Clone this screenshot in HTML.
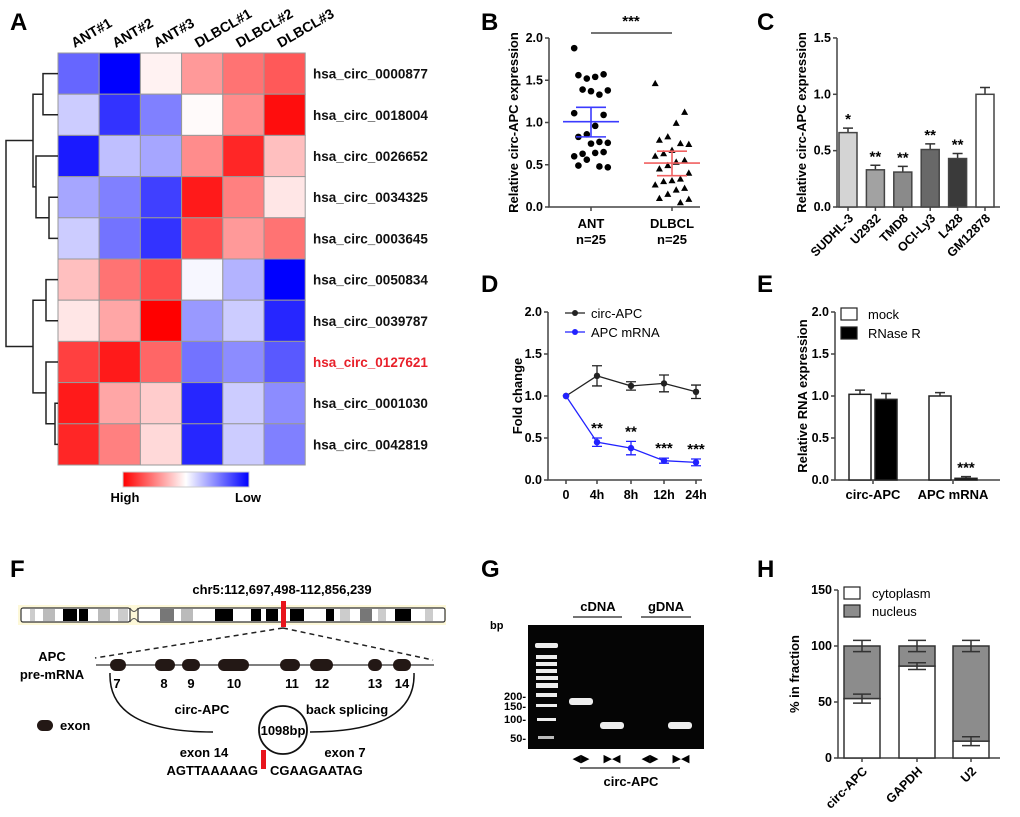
<!DOCTYPE html>
<html><head><meta charset="utf-8"><style>
body{margin:0;background:#fff}
svg{display:block;font-family:"Liberation Sans",Arial,sans-serif}
.b{font-weight:bold}
</style></head><body>
<svg id="fig" width="1020" height="817" viewBox="0 0 1020 817" xmlns="http://www.w3.org/2000/svg">
<g class="b" font-size="24">
<text x="10" y="30">A</text>
<text x="481" y="30">B</text>
<text x="757" y="30">C</text>
<text x="481" y="292">D</text>
<text x="757" y="292">E</text>
<text x="10" y="577">F</text>
<text x="481" y="577">G</text>
<text x="757" y="577">H</text>
</g>
<g id="A"></g>
<g id="B"></g>
<g id="C"></g>
<g id="D"></g>
<g id="E"></g>
<g id="F"></g>
<g id="G"></g>
<g id="H"></g>
</svg>
<script>
// ---------- data ----------
const heatCols = ["ANT#1","ANT#2","ANT#3","DLBCL#1","DLBCL#2","DLBCL#3"];
const heatRows = ["hsa_circ_0000877","hsa_circ_0018004","hsa_circ_0026652","hsa_circ_0034325","hsa_circ_0003645","hsa_circ_0050834","hsa_circ_0039787","hsa_circ_0127621","hsa_circ_0001030","hsa_circ_0042819"];
const heatVals = [
 [-0.6,-1,0.05,0.4,0.55,0.65],
 [-0.2,-0.8,-0.5,0.02,0.45,0.95],
 [-0.9,-0.25,-0.35,0.45,0.85,0.25],
 [-0.35,-0.5,-0.75,0.9,0.5,0.1],
 [-0.2,-0.55,-0.8,0.7,0.4,0.55],
 [0.25,0.55,0.7,-0.03,-0.3,-1],
 [0.1,0.35,1.0,-0.4,-0.2,-0.85],
 [0.75,0.9,0.6,-0.55,-0.45,-0.65],
 [0.9,0.35,0.2,-0.85,-0.2,-0.45],
 [0.85,0.5,0.15,-0.85,-0.2,-0.5]];
const bCats = ["ANT","DLBCL"];
const bAnt = [1.88,1.57,1.54,1.52,1.56,1.38,1.33,1.37,1.39,1.11,1.09,0.96,0.86,0.83,0.76,0.77,0.75,0.63,0.60,0.65,0.64,0.56,0.49,0.47,0.48];
const bDlbcl = [1.46,1.12,0.99,0.83,0.79,0.74,0.75,0.67,0.63,0.6,0.55,0.53,0.49,0.45,0.4,0.33,0.31,0.3,0.26,0.22,0.2,0.15,0.1,0.09,0.05];
const bMean = [1.01,0.52];
const bLo = [0.83,0.37];
const bHi = [1.18,0.66];
const bTicks = [0,0.5,1.0,1.5,2.0];
const cCats = ["SUDHL-3","U2932","TMD8","OCI-Ly3","L428","GM12878"];
const cVals = [0.66,0.33,0.31,0.51,0.43,1.0];
const cErr = [0.04,0.04,0.05,0.05,0.045,0.06];
const cStars = ["*","**","**","**","**",""];
const cTicks = [0,0.5,1.0,1.5];
const dCats = ["0","4h","8h","12h","24h"];
const dCirc = [1,1.24,1.12,1.15,1.05];
const dCircErr = [0,0.12,0.05,0.1,0.08];
const dMrna = [1,0.45,0.38,0.23,0.21];
const dMrnaErr = [0,0.05,0.08,0.03,0.04];
const dStars = ["","**","**","***","***"];
const dTicks = [0,0.5,1.0,1.5,2.0];
const eCats = ["circ-APC","APC mRNA"];
const eMock = [1.02,1.0];
const eMockErr = [0.05,0.04];
const eRnase = [0.96,0.02];
const eRnaseErr = [0.07,0.02];
const eTicks = [0,0.5,1.0,1.5,2.0];
const hCats = ["circ-APC","GAPDH","U2"];
const hCyto = [53,82,15];
const hCytoErr = [4,3,4];
const hNucErr = [5,5,5];
const hTicks = [0,50,100,150];

const NS="http://www.w3.org/2000/svg";
function mk(parent,tag,attrs,text){const e=document.createElementNS(NS,tag);for(const k in attrs)e.setAttribute(k,attrs[k]);if(text!==undefined)e.textContent=text;parent.appendChild(e);return e;}
function lerp(a,b,t){return Math.round(a+(b-a)*t);}
function heatColor(v){if(v>=0){return `rgb(255,${lerp(255,0,v)},${lerp(255,0,v)})`;}const t=-v;return `rgb(${lerp(255,0,t)},${lerp(255,0,t)},255)`;}

// ---------- A heatmap ----------
(function(){
const g=document.getElementById('A');
const x0=58,y0=53,cw=41.2,ch=41.2;
heatVals.forEach((row,i)=>row.forEach((v,j)=>{
 const r=mk(g,'rect',{x:x0+j*cw,y:y0+i*ch,width:cw,height:ch,fill:heatColor(v),stroke:'#999','stroke-width':1});
 
 
}));
heatRows.forEach((n,i)=>{
 const t=mk(g,'text',{x:313,y:y0+i*ch+ch/2+5,'font-size':13.5,'font-weight':'bold',fill:n==='hsa_circ_0127621'?'#e8202a':'#111'},n);
 
 
});
heatCols.forEach((n,j)=>{
 const cx=x0+j*cw+cw/2-4,cy=48;
 const t=mk(g,'text',{x:cx,y:cy,'font-size':14,'font-weight':'bold',transform:`rotate(-30 ${cx} ${cy})`},n);
 
 
});
const yc=i=>y0+i*ch+ch/2;
const d=mk(g,'g',{stroke:'#222','stroke-width':1.5,fill:'none'});


const P=(a)=>mk(d,'path',{d:a});
P(`M58 ${yc(0)}H43V${yc(1)}H58`);P(`M58 ${yc(3)}H49V${yc(4)}H58`);
P(`M58 ${yc(2)}H36V${(yc(3)+yc(4))/2}H49`);
const m1=(yc(0)+yc(1))/2,m2=(yc(2)+(yc(3)+yc(4))/2)/2;P(`M43 ${m1}H33V${m2}H36`);
P(`M58 ${yc(5)}H46V${yc(6)}H58`);P(`M58 ${yc(8)}H55V${yc(9)}H58`);
P(`M58 ${yc(7)}H46V${(yc(8)+yc(9))/2}H55`);
const m3=(yc(5)+yc(6))/2,m4=(yc(7)+(yc(8)+yc(9))/2)/2;P(`M46 ${m3}H33V${m4}H46`);
P(`M33 ${(m1+m2)/2}H6V${(m3+m4)/2}H33`);
const defs=mk(g,'defs',{});const lg=mk(defs,'linearGradient',{id:'cb'});
mk(lg,'stop',{offset:'0','stop-color':'#ff0000'});mk(lg,'stop',{offset:'0.5','stop-color':'#ffffff'});mk(lg,'stop',{offset:'1','stop-color':'#0000ff'});
const cb=mk(g,'rect',{x:123,y:472,width:126,height:15,fill:'url(#cb)',stroke:'#ccc'});


const hi=mk(g,'text',{x:125,y:502,'font-size':13,'font-weight':'bold','text-anchor':'middle'},'High');


const lo=mk(g,'text',{x:248,y:502,'font-size':13,'font-weight':'bold','text-anchor':'middle'},'Low');


})();

function yAxis(g,x,yBase,scale,ticks,fmt,xEnd,title,titleX){
 const ax=mk(g,'g',{stroke:'#444','stroke-width':1.5,fill:'none'});
 
 
 const top=yBase-ticks[ticks.length-1]*scale;
 mk(ax,'path',{d:`M${x} ${top}V${yBase}H${xEnd}`});
 ticks.forEach(t=>{const y=yBase-t*scale;mk(ax,'path',{d:`M${x-4} ${y}H${x}`});
  const lb=mk(g,'text',{x:x-6,y:y+4,'font-size':12.5,'font-weight':'bold','text-anchor':'end'},fmt(t));
  
  });
 const cy=(top+yBase)/2;
 const tt=mk(g,'text',{x:titleX,y:cy,'font-size':13,'font-weight':'bold','text-anchor':'middle',transform:`rotate(-90 ${titleX} ${cy})`},title);
 
 
}
const f1=t=>t.toFixed(1);
function errBar(g,x,y1,y2,w){const e=mk(g,'path',{d:`M${x} ${y1}V${y2}M${x-w} ${y1}H${x+w}`,stroke:'#333','stroke-width':1.5,fill:'none'});
 
 }

// ---------- B ----------
(function(){
const g=document.getElementById('B');const X=549,Y=207,S=84.5;const ys=v=>Y-v*S;
yAxis(g,X,Y,S,bTicks,f1,700,'Relative circ-APC expression',518);
const cx=[591,672];
bCats.forEach((c,i)=>{mk(g,'path',{d:`M${cx[i]} ${Y}v4`,stroke:'#444','stroke-width':1.5});
 const t=mk(g,'text',{x:cx[i],y:228,'font-size':13,'font-weight':'bold','text-anchor':'middle'},c);
 
 
 const n=mk(g,'text',{x:cx[i],y:244,'font-size':13,'font-weight':'bold','text-anchor':'middle'},'n=25');
 
 });
const jit=i=>(((i*7)%9)-4)*4.2;
bAnt.forEach((v,i)=>{const p=mk(g,'circle',{cx:cx[0]+jit(i),cy:ys(v),r:3.3,fill:'#000'});
 
 });
bDlbcl.forEach((v,i)=>{const x=cx[1]+jit(i),y=ys(v);const p=mk(g,'path',{d:`M${x} ${y-3.8}L${x+3.5} ${y+2.5}H${x-3.5}Z`,fill:'#000'});
 
 });
const cols=['#3b3bff','#f06060'];
bMean.forEach((m,i)=>{const gg=mk(g,'g',{stroke:cols[i],'stroke-width':1.6,fill:'none'});
 
 
 mk(gg,'path',{d:`M${cx[i]-28} ${ys(m)}h56M${cx[i]-15} ${ys(bLo[i])}h30M${cx[i]-15} ${ys(bHi[i])}h30M${cx[i]} ${ys(bLo[i])}V${ys(bHi[i])}`});});
const sl=mk(g,'path',{d:'M591 33H672',stroke:'#222','stroke-width':1.3});


const st=mk(g,'text',{x:631,y:26,'font-size':15,'font-weight':'bold','text-anchor':'middle'},'***');


})();

// ---------- C ----------
(function(){
const g=document.getElementById('C');const X=837,Y=207,S=112.7;const ys=v=>Y-v*S;
yAxis(g,X,Y,S,cTicks,f1,1000,'Relative circ-APC expression',806);
const fills=['#d4d4d4','#a2a2a2','#8a8a8a','#686868','#3a3a3a','#ffffff'];
const step=27.4,x0=848;
cCats.forEach((c,i)=>{const cx=x0+i*step;
 errBar(g,cx,ys(cVals[i]+cErr[i]),ys(cVals[i]),5);
 const r=mk(g,'rect',{x:cx-9,y:ys(cVals[i]),width:18,height:cVals[i]*S,fill:fills[i],stroke:'#444','stroke-width':1.5});
 
 
 mk(g,'path',{d:`M${cx} ${Y}v4`,stroke:'#444','stroke-width':1.5});
 if(cStars[i]){const s=mk(g,'text',{x:cx,y:ys(cVals[i]+cErr[i])-4,'font-size':15,'font-weight':'bold','text-anchor':'middle'},cStars[i]);
  
  }
 const t=mk(g,'text',{x:cx+6,y:219,'font-size':12.5,'font-weight':'bold','text-anchor':'end',transform:`rotate(-45 ${cx+6} 219)`},c);
 
 });
})();

// ---------- D ----------
(function(){
const g=document.getElementById('D');const X=548,Y=480,S=84;const ys=v=>Y-v*S;
yAxis(g,X,Y,S,dTicks,f1,702,'Fold change',522);
const xs=[566,597,631,664,696];
dCats.forEach((c,i)=>{mk(g,'path',{d:`M${xs[i]} ${Y}v4`,stroke:'#444','stroke-width':1.5});
 const t=mk(g,'text',{x:xs[i],y:499,'font-size':12.5,'font-weight':'bold','text-anchor':'middle'},c);
 
 });
function series(vals,errs,col,name){const gg=mk(g,'g',{});
 
 
 mk(gg,'path',{d:vals.map((v,i)=>(i?'L':'M')+xs[i]+' '+ys(v)).join(''),stroke:col,'stroke-width':1.3,fill:'none'});
 vals.forEach((v,i)=>{if(errs[i])mk(gg,'path',{d:`M${xs[i]} ${ys(v-errs[i])}V${ys(v+errs[i])}M${xs[i]-5} ${ys(v-errs[i])}h10M${xs[i]-5} ${ys(v+errs[i])}h10`,stroke:col,'stroke-width':1.3});
  mk(gg,'circle',{cx:xs[i],cy:ys(v),r:3.2,fill:col});});}
series(dCirc,dCircErr,'#222','circ-apc-series');
series(dMrna,dMrnaErr,'#2222ff','apc-mrna-series');
dStars.forEach((s,i)=>{if(!s)return;const t=mk(g,'text',{x:xs[i],y:ys(dMrna[i]+dMrnaErr[i])-5,'font-size':15,'font-weight':'bold','text-anchor':'middle'},s);
 
 });
const lg=mk(g,'g',{});


[['circ-APC','#222',313],['APC mRNA','#2222ff',332]].forEach(([n,c,y])=>{mk(lg,'path',{d:`M565 ${y}h20`,stroke:c,'stroke-width':1.3});mk(lg,'circle',{cx:575,cy:y,r:3,fill:c});
 const t=mk(lg,'text',{x:591,y:y+5,'font-size':13},n);
 
 });
})();

// ---------- E ----------
(function(){
const g=document.getElementById('E');const X=835,Y=480,S=84;const ys=v=>Y-v*S;
yAxis(g,X,Y,S,eTicks,f1,1000,'Relative RNA expression',807);
const cxs=[873,953];
eCats.forEach((c,i)=>{const m=cxs[i]-13,r=cxs[i]+13;
 errBar(g,m,ys(eMock[i]+eMockErr[i]),ys(eMock[i]),5);
 errBar(g,r,ys(eRnase[i]+eRnaseErr[i]),ys(eRnase[i]),5);
 const b1=mk(g,'rect',{x:m-11,y:ys(eMock[i]),width:22,height:eMock[i]*S,fill:'#fff',stroke:'#222','stroke-width':1.5});
 
 
 const b2=mk(g,'rect',{x:r-11,y:ys(eRnase[i]),width:22,height:Math.max(eRnase[i]*S,1.5),fill:'#000',stroke:'#222','stroke-width':1.5});
 
 
 mk(g,'path',{d:`M${cxs[i]} ${Y}v4`,stroke:'#444','stroke-width':1.5});
 const t=mk(g,'text',{x:cxs[i],y:499,'font-size':13,'font-weight':'bold','text-anchor':'middle'},c);
 
 });
const st=mk(g,'text',{x:cxs[1]+13,y:ys(eRnase[1]+eRnaseErr[1])-4,'font-size':15,'font-weight':'bold','text-anchor':'middle'},'***');


const lg=mk(g,'g',{});


[['mock','#fff',314],['RNase R','#000',333]].forEach(([n,c,y])=>{mk(lg,'rect',{x:841,y:y-6,width:16,height:12,fill:c,stroke:'#222','stroke-width':1.2});
 const t=mk(lg,'text',{x:868,y:y+5,'font-size':13},n);
 
 });
})();

// ---------- H ----------
(function(){
const g=document.getElementById('H');const X=838,Y=758,S=1.12;const ys=v=>Y-v*S;
yAxis(g,X,Y,S,hTicks,t=>String(t),1000,'% in fraction',799);
const cxs=[862,917,971];
hCats.forEach((c,i)=>{const cx=cxs[i];
 errBar(g,cx,ys(100+hNucErr[i]),ys(100),9);
 const n=mk(g,'rect',{x:cx-18,y:ys(100),width:36,height:(100-hCyto[i])*S,fill:'#8c8c8c',stroke:'#333','stroke-width':1.5});
 
 
 mk(g,'path',{d:`M${cx} ${ys(100-hNucErr[i])}V${ys(100)}M${cx-9} ${ys(100-hNucErr[i])}h18`,stroke:'#333','stroke-width':1.5});
 const cy=mk(g,'rect',{x:cx-18,y:ys(hCyto[i]),width:36,height:hCyto[i]*S,fill:'#fff',stroke:'#333','stroke-width':1.5});
 
 
 mk(g,'path',{d:`M${cx} ${ys(hCyto[i]-hCytoErr[i])}V${ys(hCyto[i]+hCytoErr[i])}M${cx-9} ${ys(hCyto[i]-hCytoErr[i])}h18M${cx-9} ${ys(hCyto[i]+hCytoErr[i])}h18`,stroke:'#333','stroke-width':1.5});
 mk(g,'path',{d:`M${cx} ${Y}v4`,stroke:'#444','stroke-width':1.5});
 const t=mk(g,'text',{x:cx+6,y:772,'font-size':12.5,'font-weight':'bold','text-anchor':'end',transform:`rotate(-45 ${cx+6} 772)`},c);
 
 });
const lg=mk(g,'g',{});


[['cytoplasm','#fff',593],['nucleus','#8c8c8c',611]].forEach(([n,c,y])=>{mk(lg,'rect',{x:844,y:y-6,width:16,height:12,fill:c,stroke:'#222','stroke-width':1.2});
 const t=mk(lg,'text',{x:872,y:y+5,'font-size':13},n);
 
 });
})();
</script>
<script>
(function(){
const g=document.getElementById('F');
g.innerHTML=`
<text x="282" y="594" font-size="13" font-weight="bold" text-anchor="middle">chr5:112,697,498-112,856,239</text>
<g>
<rect x="18" y="605" width="428" height="20" fill="#fdf8d8"/>
<rect x="21" y="608" width="109" height="14" fill="#fff" stroke="#333" stroke-width="1.2" rx="2"/>
<rect x="138" y="608" width="307" height="14" fill="#fff" stroke="#333" stroke-width="1.2" rx="2"/>
<rect x="30" y="609" width="5" height="12" fill="#ccc"/><rect x="43" y="609" width="12" height="12" fill="#bbb"/>
<rect x="63" y="609" width="14" height="12" fill="#000"/><rect x="79" y="609" width="9" height="12" fill="#000"/>
<rect x="98" y="609" width="12" height="12" fill="#bbb"/><rect x="118" y="609" width="10" height="12" fill="#ccc"/>
<path d="M130 608 Q134 615 138 608 M130 622 Q134 615 138 622" stroke="#555" fill="none"/>
<rect x="160" y="609" width="14" height="12" fill="#777"/><rect x="181" y="609" width="12" height="12" fill="#bbb"/>
<rect x="215" y="609" width="18" height="12" fill="#000"/><rect x="251" y="609" width="10" height="12" fill="#000"/>
<rect x="266" y="609" width="12" height="12" fill="#000"/><rect x="290" y="609" width="14" height="12" fill="#000"/>
<rect x="326" y="609" width="8" height="12" fill="#000"/><rect x="340" y="609" width="10" height="12" fill="#ccc"/>
<rect x="360" y="609" width="12" height="12" fill="#777"/><rect x="378" y="609" width="8" height="12" fill="#ccc"/>
<rect x="395" y="609" width="16" height="12" fill="#000"/><rect x="425" y="609" width="8" height="12" fill="#ccc"/>
<rect x="281" y="601" width="5" height="26" fill="#e8141c"/>
</g>
<path d="M283 628 L95 658 M283 628 L433 660" stroke="#222" stroke-width="1.5" stroke-dasharray="5 4" fill="none"/>
<text x="52" y="661" font-size="13" font-weight="bold" text-anchor="middle">APC</text>
<text x="52" y="679" font-size="13" font-weight="bold" text-anchor="middle">pre-mRNA</text>
<path d="M96 665H434" stroke="#333" stroke-width="1.3"/>
<g fill="#231815">
<rect x="110" y="659" width="16" height="12" rx="6"/><rect x="155" y="659" width="20" height="12" rx="6"/>
<rect x="182" y="659" width="18" height="12" rx="6"/><rect x="218" y="659" width="31" height="12" rx="6"/>
<rect x="280" y="659" width="20" height="12" rx="6"/><rect x="310" y="659" width="23" height="12" rx="6"/>
<rect x="368" y="659" width="14" height="12" rx="6"/><rect x="393" y="659" width="18" height="12" rx="6"/>
</g>
<g font-size="13" font-weight="bold" text-anchor="middle">
<text x="117" y="688">7</text><text x="164" y="688">8</text><text x="191" y="688">9</text><text x="234" y="688">10</text>
<text x="292" y="688">11</text><text x="322" y="688">12</text><text x="375" y="688">13</text><text x="402" y="688">14</text>
</g>
<path d="M110 673 Q108 732 213 732 M414 673 Q416 732 310 732" stroke="#111" stroke-width="1.5" fill="none"/>
<circle cx="283" cy="730" r="24" fill="none" stroke="#111" stroke-width="1.8"/>
<text x="283" y="735" font-size="13" font-weight="bold" text-anchor="middle">1098bp</text>
<text x="202" y="714" font-size="13" font-weight="bold" text-anchor="middle">circ-APC</text>
<text x="347" y="714" font-size="13" font-weight="bold" text-anchor="middle">back splicing</text>
<rect x="37" y="720" width="16" height="11" rx="5.5" fill="#231815"/>
<text x="60" y="730" font-size="13" font-weight="bold">exon</text>
<text x="204" y="757" font-size="13" font-weight="bold" text-anchor="middle">exon 14</text>
<text x="345" y="757" font-size="13" font-weight="bold" text-anchor="middle">exon 7</text>
<text x="258" y="775" font-size="13" font-weight="bold" text-anchor="end">AGTTAAAAAG</text>
<text x="270" y="775" font-size="13" font-weight="bold">CGAAGAATAG</text>
<rect x="261" y="750" width="5" height="19" fill="#e8141c"/>`;
const G=document.getElementById('G');
G.innerHTML=`
<text x="598" y="611" font-size="13" font-weight="bold" text-anchor="middle">cDNA</text>
<text x="666" y="611" font-size="13" font-weight="bold" text-anchor="middle">gDNA</text>
<path d="M573 617H622M641 617H691" stroke="#222" stroke-width="1.2"/>
<text x="490" y="629" font-size="11" font-weight="bold">bp</text>
<rect x="528" y="625" width="176" height="124" fill="#050505"/>
<g fill="#eee">
<rect x="535" y="643" width="23" height="5" rx="2"/><rect x="536" y="655" width="21" height="4"/><rect x="536" y="662" width="21" height="4"/>
<rect x="536" y="669" width="21" height="4"/><rect x="536" y="676" width="22" height="4"/><rect x="536" y="683" width="22" height="5"/>
<rect x="536" y="693" width="21" height="4"/><rect x="536" y="704" width="21" height="3"/><rect x="537" y="718" width="19" height="3"/>
<rect x="538" y="736" width="16" height="3" fill="#bbb"/>
</g>
<rect x="569" y="698" width="24" height="7" rx="3" fill="#eee"/>
<rect x="600" y="722" width="24" height="7" rx="3" fill="#eee"/>
<rect x="668" y="722" width="24" height="7" rx="3" fill="#eee"/>
<g font-size="11" font-weight="bold" text-anchor="end">
<text x="526" y="700">200-</text><text x="526" y="710">150-</text><text x="526" y="723">100-</text><text x="526" y="742">50-</text>
</g>
<g font-size="11" text-anchor="middle">
<text x="581" y="762">◀▶</text><text x="612" y="762">▶◀</text><text x="650" y="762">◀▶</text><text x="681" y="762">▶◀</text>
</g>
<path d="M580 768H680" stroke="#222" stroke-width="1.2"/>
<text x="631" y="786" font-size="13" font-weight="bold" text-anchor="middle">circ-APC</text>`;
})();
</script>
</body></html>
